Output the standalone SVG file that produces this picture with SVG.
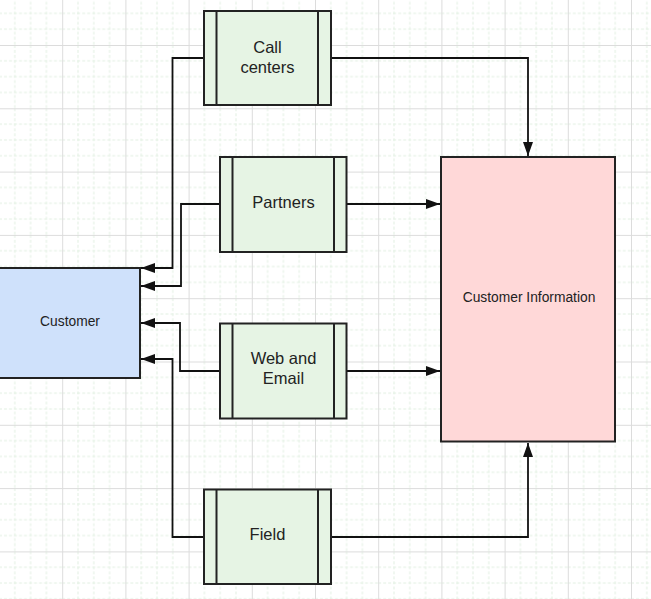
<svg xmlns="http://www.w3.org/2000/svg" width="651" height="599" viewBox="0 0 651 599">
  <defs>
    <pattern id="grid" patternUnits="userSpaceOnUse" x="-1" y="-18.3" width="63.2" height="63.3">
      <g stroke="#e2f0e2" stroke-width="1" stroke-dasharray="3 2" fill="none">
        <line x1="15.8" y1="0" x2="15.8" y2="63.3"/>
        <line x1="31.6" y1="0" x2="31.6" y2="63.3"/>
        <line x1="47.4" y1="0" x2="47.4" y2="63.3"/>
        <line x1="0" y1="15.8" x2="63.2" y2="15.8"/>
        <line x1="0" y1="31.65" x2="63.2" y2="31.65"/>
        <line x1="0" y1="47.5" x2="63.2" y2="47.5"/>
      </g>
      <g stroke="#dcdcdc" stroke-width="1" fill="none">
        <line x1="0.5" y1="0" x2="0.5" y2="63.3"/>
        <line x1="0" y1="0.5" x2="63.2" y2="0.5"/>
      </g>
    </pattern>
    <marker id="arrow" markerUnits="userSpaceOnUse" markerWidth="14" markerHeight="10" refX="14" refY="5" orient="auto">
      <path d="M0,0 L14,5 L0,10 z" fill="#111"/>
    </marker>
    <style>
      .proc { fill: #e6f4e4; stroke: #222; stroke-width: 2; }
      .bar { stroke: #222; stroke-width: 2; }
      .conn { fill: none; stroke: #111; stroke-width: 1.8; marker-end: url(#arrow); }
      .lbl { font-family: "Liberation Sans", Arial, sans-serif; font-size: 16.5px; fill: #222; text-anchor: middle; }
      .lbl-s { font-family: "Liberation Sans", Arial, sans-serif; font-size: 13.8px; fill: #222; text-anchor: middle; }
    </style>
  </defs>

  <rect x="0" y="0" width="651" height="599" fill="#ffffff"/>
  <rect x="0" y="0" width="651" height="599" fill="url(#grid)"/>

  <g id="connectors">
    <path class="conn" d="M204,58 H172.5 V268 H141"/>
    <path class="conn" d="M220,204 H181 V286 H141"/>
    <path class="conn" d="M220,371 H180 V323 H141"/>
    <path class="conn" d="M204,537 H172.5 V359 H141"/>
    <path class="conn" d="M331,58 H528 V156"/>
    <path class="conn" d="M347,204 H440"/>
    <path class="conn" d="M347,371 H440"/>
    <path class="conn" d="M331,537 H528 V443"/>
  </g>

  <g id="customer">
    <rect x="-2" y="268" width="142" height="110" fill="#cfe1fb" stroke="#222" stroke-width="2"/>
    <text class="lbl-s" x="70" y="326">Customer</text>
  </g>

  <g id="customer-information">
    <rect x="441" y="157" width="174" height="284.5" fill="#ffd8d8" stroke="#222" stroke-width="2"/>
    <text class="lbl-s" x="529" y="302">Customer Information</text>
  </g>

  <g id="call-centers">
    <rect class="proc" x="204" y="11" width="127" height="94"/>
    <line class="bar" x1="216.5" y1="11" x2="216.5" y2="105"/>
    <line class="bar" x1="318" y1="11" x2="318" y2="105"/>
    <text class="lbl" x="267.5" y="52.5">Call</text>
    <text class="lbl" x="267.5" y="72.5">centers</text>
  </g>

  <g id="partners">
    <rect class="proc" x="220" y="157" width="126.5" height="95"/>
    <line class="bar" x1="232.5" y1="157" x2="232.5" y2="252"/>
    <line class="bar" x1="334" y1="157" x2="334" y2="252"/>
    <text class="lbl" x="283.5" y="207.5">Partners</text>
  </g>

  <g id="web-and-email">
    <rect class="proc" x="220" y="323.5" width="126.5" height="95"/>
    <line class="bar" x1="232.5" y1="323.5" x2="232.5" y2="418.5"/>
    <line class="bar" x1="334" y1="323.5" x2="334" y2="418.5"/>
    <text class="lbl" x="283.5" y="363.5">Web and</text>
    <text class="lbl" x="283.5" y="383.5">Email</text>
  </g>

  <g id="field">
    <rect class="proc" x="204" y="489.5" width="127" height="94.5"/>
    <line class="bar" x1="216.5" y1="489.5" x2="216.5" y2="584"/>
    <line class="bar" x1="318" y1="489.5" x2="318" y2="584"/>
    <text class="lbl" x="267.5" y="539.5">Field</text>
  </g>
</svg>
